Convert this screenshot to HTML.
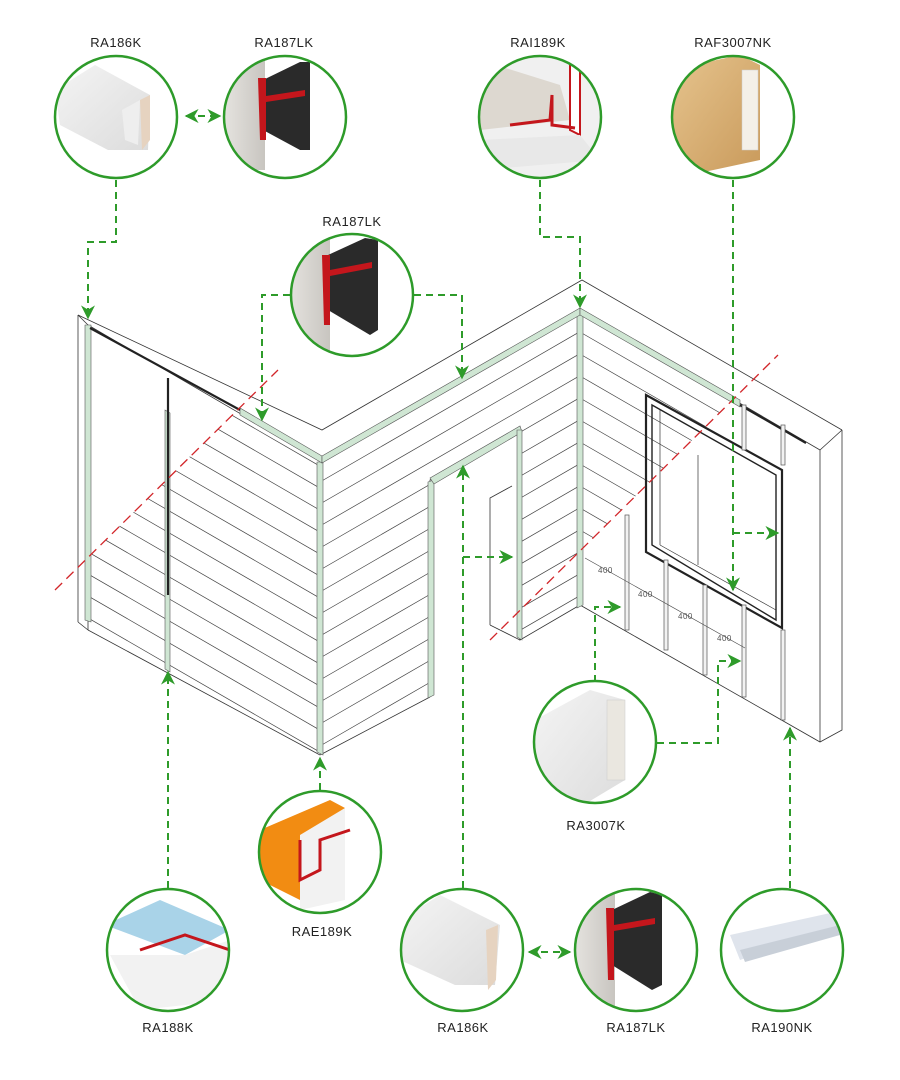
<!DOCTYPE html>
<html><head><meta charset="utf-8"><style>
html,body{margin:0;padding:0;background:#fff;}
svg{display:block;}
text{font-family:"Liberation Sans",sans-serif;font-size:13px;fill:#222;letter-spacing:0.5px;}
</style></head><body>
<svg width="900" height="1080" viewBox="0 0 900 1080" xmlns="http://www.w3.org/2000/svg">
<defs>
<marker id="ar" viewBox="0 0 10 10" refX="9" refY="5" markerWidth="7" markerHeight="7" orient="auto-start-reverse"><path d="M0,0 L10,5 L0,10 L3,5z" fill="#2e9b2a"/></marker>
<clipPath id="cL"><polygon points="240,407 320,460 320,755 88,630 88,557"/></clipPath>
<clipPath id="cM"><path d="M320,460 L580,310 L580,605 L520,640 L520,428 L430,480 L430,697 L320,755Z"/></clipPath>
<clipPath id="cR"><polygon points="580,310 734,399 580,551"/></clipPath>
<linearGradient id="wood" x1="0" y1="0" x2="1" y2="1"><stop offset="0" stop-color="#e6c48e"/><stop offset="1" stop-color="#c99a5b"/></linearGradient>
<linearGradient id="wh" x1="0" y1="0" x2="1" y2="1"><stop offset="0" stop-color="#f4f4f4"/><stop offset="1" stop-color="#dcdcdc"/></linearGradient>
<linearGradient id="gr" x1="0" y1="0" x2="1" y2="0"><stop offset="0" stop-color="#e8e6e2"/><stop offset="1" stop-color="#c8c5c0"/></linearGradient>
</defs>

<!-- Wall structure -->
<g fill="none" stroke="#333" stroke-width="0.8">
<polyline points="78,315 322,430 582,280 842,430"/>
<polyline points="88,325 320,460 580,310 820,450"/>
<line x1="78" y1="315" x2="88" y2="325"/>
<line x1="842" y1="430" x2="820" y2="450"/>
<line x1="78" y1="315" x2="78" y2="622"/>
<line x1="78" y1="622" x2="88" y2="630"/>
<line x1="88" y1="325" x2="88" y2="630"/>
<line x1="88" y1="630" x2="320" y2="755"/>
<line x1="320" y1="755" x2="430" y2="697"/>
<polyline points="430,697 430,480 520,428 520,640 580,605 820,742 842,730 842,430"/>
<line x1="820" y1="450" x2="820" y2="742"/>
<polyline points="490,625 490,498 512,486"/>
<line x1="490" y1="625" x2="520" y2="640"/>
</g>
<!-- siding lines -->
<g stroke="#444" stroke-width="0.7" clip-path="url(#cL)">
<line x1="0" y1="413" x2="330" y2="604"/><line x1="0" y1="435" x2="330" y2="626"/><line x1="0" y1="457" x2="330" y2="648"/><line x1="0" y1="479" x2="330" y2="670"/><line x1="0" y1="501" x2="330" y2="692"/><line x1="0" y1="523" x2="330" y2="714"/><line x1="0" y1="545" x2="330" y2="736"/><line x1="0" y1="567" x2="330" y2="758"/><line x1="0" y1="391" x2="330" y2="582"/><line x1="0" y1="369" x2="330" y2="560"/><line x1="0" y1="347" x2="330" y2="538"/><line x1="0" y1="325" x2="330" y2="516"/><line x1="0" y1="303" x2="330" y2="494"/><line x1="0" y1="281" x2="330" y2="472"/>
</g>
<g stroke="#444" stroke-width="0.7" clip-path="url(#cM)">
<line x1="320" y1="482" x2="600" y2="320"/><line x1="320" y1="504" x2="600" y2="342"/><line x1="320" y1="526" x2="600" y2="364"/><line x1="320" y1="548" x2="600" y2="386"/><line x1="320" y1="570" x2="600" y2="408"/><line x1="320" y1="592" x2="600" y2="430"/><line x1="320" y1="614" x2="600" y2="452"/><line x1="320" y1="636" x2="600" y2="474"/><line x1="320" y1="658" x2="600" y2="496"/><line x1="320" y1="680" x2="600" y2="518"/><line x1="320" y1="702" x2="600" y2="540"/><line x1="320" y1="724" x2="600" y2="562"/><line x1="320" y1="746" x2="600" y2="584"/><line x1="320" y1="768" x2="600" y2="606"/><line x1="320" y1="790" x2="600" y2="628"/>
</g>
<g stroke="#444" stroke-width="0.7" clip-path="url(#cR)">
<line x1="580" y1="332" x2="760" y2="436"/><line x1="580" y1="354" x2="760" y2="458"/><line x1="580" y1="376" x2="760" y2="480"/><line x1="580" y1="398" x2="760" y2="502"/><line x1="580" y1="420" x2="760" y2="524"/><line x1="580" y1="442" x2="760" y2="546"/><line x1="580" y1="464" x2="760" y2="568"/><line x1="580" y1="486" x2="760" y2="590"/><line x1="580" y1="508" x2="760" y2="612"/><line x1="580" y1="530" x2="760" y2="634"/>
</g>
<!-- trims -->
<g fill="#cfe6d3" stroke="#555" stroke-width="0.6">
<polygon points="317,462 323,462 323,755 317,752"/>
<polygon points="577,312 583,312 583,605 577,608"/>
<polygon points="428,482 434,480 434,695 428,698"/>
<polygon points="165,410 170,413 170,672 165,669"/>
<polygon points="85,325 91,325 91,622 85,620"/>
<polygon points="240,408 322,456 322,463 240,415"/>
<polygon points="322,456 580,308 580,315 322,463"/>
<polygon points="580,308 740,400 740,407 580,315"/>
<polygon points="430,478 520,426 522,432 434,484"/>
<polygon points="517,430 522,430 522,640 517,637"/>
</g>
<g stroke="#222" stroke-width="2.2" fill="none">
<line x1="90" y1="328" x2="240" y2="410"/>
<line x1="168" y1="378" x2="168" y2="595"/>
<line x1="740" y1="405" x2="806" y2="443"/>
<polygon points="646,395 782,470 782,628 646,552"/>
<polygon points="652,405 776,475 776,620 652,545" stroke-width="1.4"/>
</g>
<g stroke="#333" stroke-width="0.7" fill="none">
<line x1="660" y1="410" x2="660" y2="545"/>
<line x1="660" y1="545" x2="776" y2="610"/>
<line x1="698" y1="455" x2="698" y2="565"/>
</g>
<!-- studs -->
<g fill="#f2f2f2" stroke="#555" stroke-width="0.7">
<rect x="625" y="515" width="4" height="115"/>
<rect x="664" y="560" width="4" height="90"/>
<rect x="703" y="585" width="4" height="90"/>
<rect x="742" y="605" width="4" height="92"/>
<rect x="781" y="630" width="4" height="90"/>
<rect x="742" y="405" width="4" height="45"/>
<rect x="781" y="425" width="4" height="40"/>
</g>
<g font-size="8">
<text x="598" y="573" style="font-size:8px;fill:#555">400</text>
<text x="638" y="597" style="font-size:8px;fill:#555">400</text>
<text x="678" y="619" style="font-size:8px;fill:#555">400</text>
<text x="717" y="641" style="font-size:8px;fill:#555">400</text>
</g>
<line x1="585" y1="558" x2="745" y2="648" stroke="#444" stroke-width="0.6"/>
<!-- red dashed -->
<g stroke="#d2262a" stroke-width="1.3" stroke-dasharray="10,6" fill="none">
<line x1="55" y1="590" x2="278" y2="370"/>
<line x1="490" y1="640" x2="778" y2="355"/>
</g>

<!-- green connectors -->
<g stroke="#2e9b2a" stroke-width="2" stroke-dasharray="7,5" fill="none">
<polyline points="116,180 116,242 88,242 88,318" marker-end="url(#ar)"/>
<line x1="186" y1="116" x2="220" y2="116" marker-start="url(#ar)" marker-end="url(#ar)"/>
<polyline points="290,295 262,295 262,420" marker-end="url(#ar)"/>
<polyline points="414,295 462,295 462,378" marker-end="url(#ar)"/>
<polyline points="540,180 540,237 580,237 580,307" marker-end="url(#ar)"/>
<line x1="733" y1="180" x2="733" y2="590" marker-end="url(#ar)"/>
<line x1="733" y1="533" x2="778" y2="533" marker-end="url(#ar)"/>
<polyline points="595,682 595,607 620,607" marker-end="url(#ar)"/>
<polyline points="657,743 718,743 718,661 740,661" marker-end="url(#ar)"/>
<line x1="463" y1="888" x2="463" y2="466" marker-end="url(#ar)"/>
<line x1="463" y1="557" x2="512" y2="557" marker-end="url(#ar)"/>
<line x1="320" y1="790" x2="320" y2="758" marker-end="url(#ar)"/>
<line x1="168" y1="888" x2="168" y2="672" marker-end="url(#ar)"/>
<line x1="790" y1="888" x2="790" y2="728" marker-end="url(#ar)"/>
<line x1="529" y1="952" x2="570" y2="952" marker-start="url(#ar)" marker-end="url(#ar)"/>
</g>

<!-- circles with product art -->
<g>
<!-- RA186K top -->
<clipPath id="k1"><circle cx="116" cy="117" r="61"/></clipPath>
<g clip-path="url(#k1)"><polygon points="55,90 95,65 150,95 148,150 108,150 60,125" fill="url(#wh)"/><polygon points="140,100 150,95 150,140 142,150" fill="#e6d3c0"/><polygon points="122,110 140,100 138,145 125,140" fill="#eee"/></g>
<circle cx="116" cy="117" r="61" fill="none" stroke="#2e9b2a" stroke-width="2.5"/>
<!-- RA187LK top -->
<clipPath id="k2"><circle cx="285" cy="117" r="61"/></clipPath>
<g clip-path="url(#k2)"><rect x="220" y="60" width="45" height="110" fill="url(#gr)"/><polygon points="263,80 300,62 310,62 310,150 300,150 263,130" fill="#2a2a2a"/><polygon points="258,78 266,78 266,140 260,140" fill="#c4161c"/><polygon points="266,96 305,90 305,96 266,102" fill="#c4161c"/></g>
<circle cx="285" cy="117" r="61" fill="none" stroke="#2e9b2a" stroke-width="2.5"/>
<!-- RAI189K -->
<clipPath id="k3"><circle cx="540" cy="117" r="61"/></clipPath>
<g clip-path="url(#k3)"><rect x="475" y="55" width="130" height="125" fill="#f0f0f0"/><polygon points="480,60 560,85 570,120 480,130" fill="#ddd8d0"/><polygon points="570,65 580,60 580,135 570,130" fill="#fff" stroke="#c4161c" stroke-width="2"/><polyline points="510,125 550,120 552,95 552,125 575,128" stroke="#c4161c" stroke-width="3" fill="none"/><polygon points="480,140 580,135 600,160 480,170" fill="#e8e8e8"/></g>
<circle cx="540" cy="117" r="61" fill="none" stroke="#2e9b2a" stroke-width="2.5"/>
<!-- RAF3007NK -->
<clipPath id="k4"><circle cx="733" cy="117" r="61"/></clipPath>
<g clip-path="url(#k4)"><polygon points="670,70 740,55 760,65 760,160 690,175 670,165" fill="url(#wood)"/><rect x="742" y="70" width="16" height="80" fill="#f4f0e8" stroke="#ccc" stroke-width="0.5"/></g>
<circle cx="733" cy="117" r="61" fill="none" stroke="#2e9b2a" stroke-width="2.5"/>
<!-- RA187LK mid -->
<clipPath id="k5"><circle cx="352" cy="295" r="61"/></clipPath>
<g clip-path="url(#k5)"><rect x="285" y="235" width="45" height="125" fill="url(#gr)"/><polygon points="328,255 365,238 378,240 378,330 370,335 328,310" fill="#2a2a2a"/><polygon points="322,255 330,255 330,325 324,325" fill="#c4161c"/><polygon points="330,270 372,262 372,268 330,276" fill="#c4161c"/></g>
<circle cx="352" cy="295" r="61" fill="none" stroke="#2e9b2a" stroke-width="2.5"/>
<!-- RA3007K -->
<clipPath id="k6"><circle cx="595" cy="742" r="61"/></clipPath>
<g clip-path="url(#k6)"><polygon points="535,720 590,690 625,700 625,780 575,810 535,790" fill="url(#wh)"/><rect x="607" y="700" width="18" height="80" fill="#eae7e0" stroke="#ccc" stroke-width="0.5"/></g>
<circle cx="595" cy="742" r="61" fill="none" stroke="#2e9b2a" stroke-width="2.5"/>
<!-- RAE189K -->
<clipPath id="k7"><circle cx="320" cy="852" r="61"/></clipPath>
<g clip-path="url(#k7)"><polygon points="260,830 330,800 345,808 300,880 300,900 260,880" fill="#f28c12"/><polygon points="300,835 345,808 345,900 300,910" fill="#f2f2f2"/><polyline points="300,840 300,880 320,870 320,840 350,830" stroke="#c4161c" stroke-width="3" fill="none"/></g>
<circle cx="320" cy="852" r="61" fill="none" stroke="#2e9b2a" stroke-width="2.5"/>
<!-- RA188K -->
<clipPath id="k8"><circle cx="168" cy="950" r="61"/></clipPath>
<g clip-path="url(#k8)"><polygon points="105,925 160,900 230,930 185,955" fill="#a9d3e8"/><polygon points="110,955 185,955 230,940 230,1000 140,1010" fill="#f2f2f2"/><polyline points="140,950 185,935 230,950 M185,935 185,990 M150,985 200,975" stroke="#c4161c" stroke-width="3" fill="none"/></g>
<circle cx="168" cy="950" r="61" fill="none" stroke="#2e9b2a" stroke-width="2.5"/>
<!-- RA186K bottom -->
<clipPath id="k9"><circle cx="462" cy="950" r="61"/></clipPath>
<g clip-path="url(#k9)"><polygon points="400,920 440,895 500,925 495,985 455,985 400,960" fill="url(#wh)"/><polygon points="486,930 498,925 496,980 488,990" fill="#e6d3c0"/></g>
<circle cx="462" cy="950" r="61" fill="none" stroke="#2e9b2a" stroke-width="2.5"/>
<!-- RA187LK bottom -->
<clipPath id="k10"><circle cx="636" cy="950" r="61"/></clipPath>
<g clip-path="url(#k10)"><rect x="570" y="890" width="45" height="120" fill="url(#gr)"/><polygon points="612,910 650,892 662,895 662,985 652,990 612,965" fill="#2a2a2a"/><polygon points="606,908 614,908 614,980 608,980" fill="#c4161c"/><polygon points="614,925 655,918 655,924 614,931" fill="#c4161c"/></g>
<circle cx="636" cy="950" r="61" fill="none" stroke="#2e9b2a" stroke-width="2.5"/>
<!-- RA190NK -->
<clipPath id="k11"><circle cx="782" cy="950" r="61"/></clipPath>
<g clip-path="url(#k11)"><polygon points="730,935 835,912 840,925 740,960" fill="#dfe4ec"/><polygon points="740,950 840,925 840,935 745,962" fill="#c8cfd8"/></g>
<circle cx="782" cy="950" r="61" fill="none" stroke="#2e9b2a" stroke-width="2.5"/>
</g>

<!-- labels -->
<g text-anchor="middle">
<text x="116" y="47">RA186K</text>
<text x="284" y="47">RA187LK</text>
<text x="538" y="47">RAI189K</text>
<text x="733" y="47">RAF3007NK</text>
<text x="352" y="226">RA187LK</text>
<text x="596" y="830">RA3007K</text>
<text x="322" y="936">RAE189K</text>
<text x="168" y="1032">RA188K</text>
<text x="463" y="1032">RA186K</text>
<text x="636" y="1032">RA187LK</text>
<text x="782" y="1032">RA190NK</text>
</g>
</svg>
</body></html>
